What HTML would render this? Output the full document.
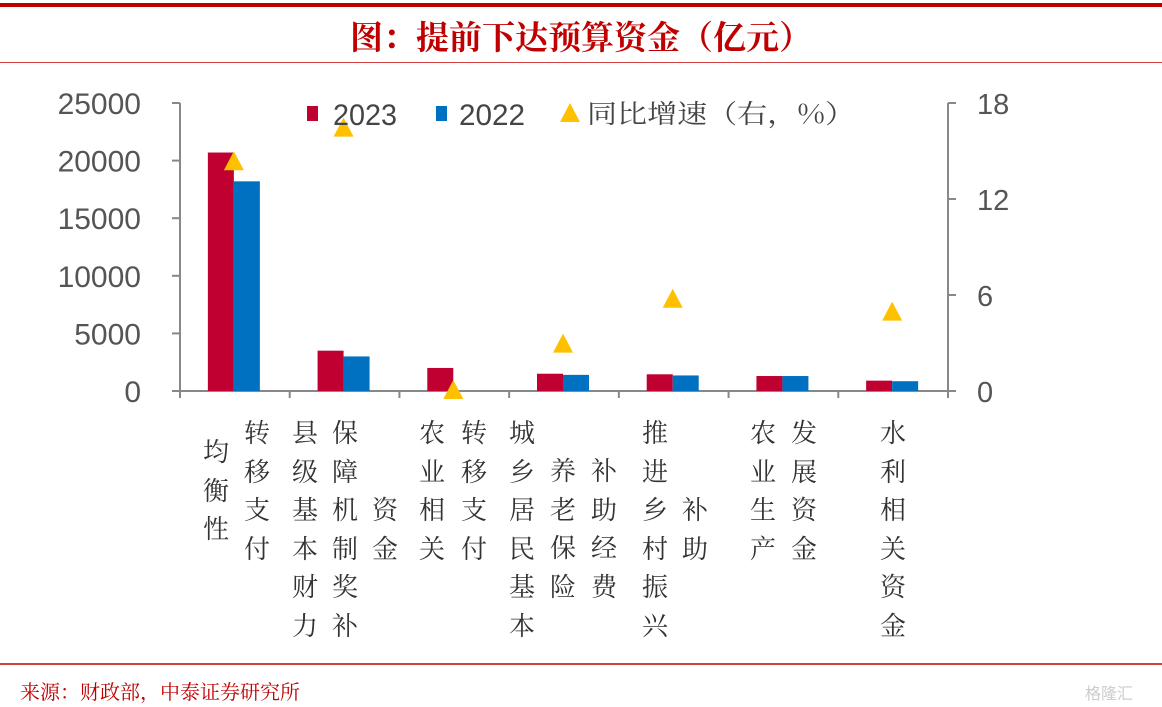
<!DOCTYPE html>
<html><head><meta charset="utf-8"><style>
html,body{margin:0;padding:0;background:#fff;}
body{width:1162px;height:707px;position:relative;overflow:hidden;font-family:"Liberation Sans","Noto Sans CJK SC",sans-serif;}
.col{position:absolute;width:28px;font-size:26px;line-height:38.5px;color:#333;text-align:center;word-break:break-all;font-family:"Noto Serif CJK SC",serif;}
</style></head><body>
<div style="position:absolute;left:0;top:3px;width:1162px;height:4px;background:#c00000"></div>
<div style="position:absolute;left:0;top:13px;width:1162px;text-align:center;font-size:33px;font-weight:bold;color:#c00000;font-family:'Noto Serif CJK SC',serif;line-height:46px">图：提前下达预算资金（亿元）</div>
<div style="position:absolute;left:0;top:62px;width:1162px;height:1px;background:#d04040"></div>
<div style="position:absolute;left:0;top:663px;width:1162px;height:2px;background:#d04040"></div>
<div style="position:absolute;left:20px;top:676px;font-size:20px;color:#c00000;font-family:'Noto Serif CJK SC',serif;line-height:30px">来源：财政部，中泰证券研究所</div>
<div style="position:absolute;left:1085px;top:680px;font-size:16px;color:#ccc">格隆汇</div>
<svg id="chart" width="1162" height="707" style="position:absolute;left:0;top:0">
<g id="g"></g>
</svg>
<div id="labels"></div>
<script>
const categories=["均衡性转移支付","县级基本财力保障机制奖补资金","农业相关转移支付","城乡居民基本养老保险补助经费","推进乡村振兴补助","农业生产发展资金","水利相关资金"];
const v2023=[20700,3500,2000,1500,1450,1300,900];
const v2022=[18200,3000,0,1400,1350,1300,850];
const growth=[14.3,16.4,0,2.9,5.7,null,4.9];
const leftTicks=[0,5000,10000,15000,20000,25000];
const rightTicks=[0,6,12,18];
const NS="http://www.w3.org/2000/svg";
const g=document.getElementById('g');
const X0=180,X1=948,Y0=391,Y1=103;
const cw=(X1-X0)/categories.length;
const yL=v=>Y0-(v/25000)*(Y0-Y1);
const yR=v=>Y0-(v/18)*(Y0-Y1);
const cx=i=>X0+cw*(i+0.5);
function el(t,a){const e=document.createElementNS(NS,t);for(const k in a)e.setAttribute(k,a[k]);g.appendChild(e);return e;}
let e;
e=el('line',{x1:X0,y1:Y1,x2:X0,y2:Y0,stroke:'#888','stroke-width':2});


e=el('line',{x1:X1,y1:Y1,x2:X1,y2:Y0,stroke:'#888','stroke-width':2});


e=el('line',{x1:X0,y1:Y0,x2:X1,y2:Y0,stroke:'#888','stroke-width':2});


leftTicks.forEach(t=>{
  el('line',{x1:X0-8,y1:yL(t),x2:X0,y2:yL(t),stroke:'#888','stroke-width':2});
  const s=String(t);
  e=el('text',{x:141,y:yL(t)+11,'text-anchor':'end','font-size':30,fill:'#555'});
  e.textContent=s;
  
  
});
rightTicks.forEach(t=>{
  el('line',{x1:X1,y1:yR(t),x2:X1+8,y2:yR(t),stroke:'#888','stroke-width':2});
  const s=String(t);
  e=el('text',{x:977,y:yR(t)+11,'font-size':29,fill:'#555'});
  e.textContent=s;
  
  
});
for(let i=0;i<=categories.length;i++){el('line',{x1:X0+cw*i,y1:Y0,x2:X0+cw*i,y2:Y0+7,stroke:'#888','stroke-width':2});}
categories.forEach((c,i)=>{
  e=el('rect',{x:cx(i)-27,y:yL(v2023[i]),width:26,height:Y0-yL(v2023[i]),fill:'#c00030'});
  
  
  e=el('rect',{x:cx(i)-1,y:yL(v2022[i]),width:26,height:Y0-yL(v2022[i]),fill:'#0070c0'});
  
  
});
growth.forEach((v,i)=>{
  if(v===null)return;
  const x=cx(i)-1,y=yR(v);
  e=el('polygon',{points:`${x},${y-11} ${x-10},${y+8} ${x+10},${y+8}`,fill:'#ffc000'});
  
  
});
e=el('rect',{x:307,y:106,width:11,height:15,fill:'#c00030'});


e=el('text',{x:333,y:125,'font-size':30,fill:'#444',textLength:64,lengthAdjust:'spacingAndGlyphs'});e.textContent='2023';


e=el('rect',{x:436,y:106,width:11,height:15,fill:'#0070c0'});


e=el('text',{x:459,y:125,'font-size':30,fill:'#444',textLength:66,lengthAdjust:'spacingAndGlyphs'});e.textContent='2022';


e=el('polygon',{points:'570,103 560,122 580,122',fill:'#ffc000'});


e=el('text',{x:587,y:123,'font-size':26,fill:'#444','font-family':'Noto Serif CJK SC, serif',textLength:268,lengthAdjust:'spacingAndGlyphs'});e.textContent='同比增速（右，%）';


const layout=[
 [[216,451,"均衡性"],[257,432,"转移支付"]],
 [[305,432,"县级基本财力"],[345,432,"保障机制奖补"],[385,509,"资金"]],
 [[432,432,"农业相关"],[474,432,"转移支付"]],
 [[522,432,"城乡居民基本"],[563,470,"养老保险"],[604,470,"补助经费"]],
 [[655,432,"推进乡村振兴"],[695,509,"补助"]],
 [[763,432,"农业生产"],[804,432,"发展资金"]],
 [[893,432,"水利相关资金"]]
];
const L=document.getElementById('labels');
layout.forEach((parts,i)=>{
  const d=document.createElement('div');
  
  
  parts.forEach(p=>{
    const s=document.createElement('div');
    s.className='col';
    s.style.left=(p[0]-14)+'px';
    s.style.top=(p[1]-19)+'px';
    s.textContent=p[2];
    d.appendChild(s);
  });
  L.appendChild(d);
});
</script>
</body></html>
